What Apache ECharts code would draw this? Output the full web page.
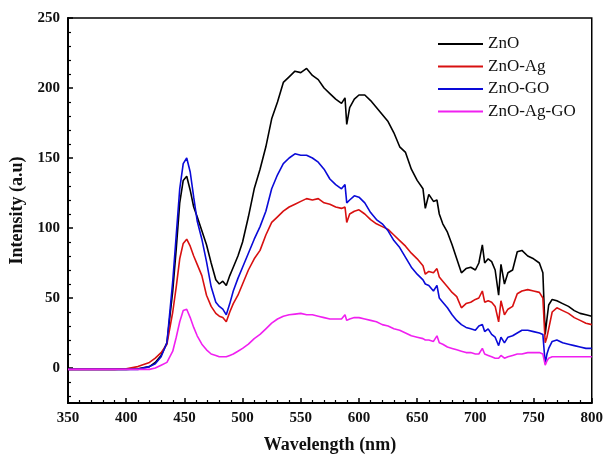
<!DOCTYPE html>
<html>
<head>
<meta charset="utf-8">
<script src="https://cdn.jsdelivr.net/npm/echarts@6/dist/echarts.min.js"></script>
<style>html,body{margin:0;padding:0;background:#fff}#c{width:606px;height:459px}</style>
</head>
<body>
<div id="c"></div>
<script>
const wavelength = [350,360,370,380,390,400,410,420,425,430,435,440,443,446,449,452,455,458,461,465,469,473,477,480,483,486,489,492,496,500,505,510,515,520,525,530,535,540,545,550,555,560,565,570,575,580,585,588,589.5,592,596,600,605,610,615,620,625,630,635,640,645,650,655,657,660,664,667,669,672,676,680,684,688,692,696,700,703,706,708,711,714,717,720,722,725,728,732,736,740,745,750,755,758,760,761.5,763,766,770,775,780,785,790,795,800];

const znO = [-1,-1,-1,-1,-1,-1,-0.5,1,4,9,18,55,85,118,134,137,127,115,108,98,88,75,63,60,62,59,66,72,80,90,108,128,142,158,178,190,204,208,212,211,214,209,206,200,196,192,189,193,174,186,192,195,195,191,186,181,176,168,158,154,142,134,128,114,124,119,120,110,103,97,88,78,68,71,72,70,75,88,75,78,76,70,52,74,60,68,70,83,84,80,78,75,68,24,35,45,49,48,46,44,41,39,38,37];

const znOAg = [-1,-1,-1,-1,-1,-0.5,1,4,7,11,17,40,58,78,89,92,87,80,74,66,52,44,39,37,36,33,40,46,52,60,70,78,84,95,104,108,112,115,117,119,121,120,121,118,117,115,114,115,104,110,112,113,110,106,103,101,99,95,91,87,82,78,73,67,69,68,71,65,62,58,54,51,43,46,47,49,50,55,47,48,47,44,33,48,38,42,44,53,55,56,55,54,50,18,22,28,40,43,41,39,36,34,32,31];

const znOGO = [-1,-1,-1,-1,-1,-1,-1,1,3,8,18,62,95,128,146,150,140,122,105,92,76,58,47,44,42,38,46,55,64,72,82,92,101,112,128,138,146,150,153,152,152,150,147,142,135,131,128,131,118,120,123,122,118,111,106,103,98,91,86,79,72,67,63,60,59,55,59,50,47,43,38,34,31,29,28,27,30,31,26,28,24,22,16,22,18,22,23,25,27,27,26,25,24,3,10,14,19,20,18,17,16,15,14,14];

const znOAgGO = [-1,-1,-1,-1,-1,-1,-1,-1,0,2,4,12,22,33,41,42,36,29,23,17,13,10,9,8,8,8,9,10,12,14,17,21,24,28,32,35,37,38,38.5,39,38,38,37,36,35,35,35,38,34,35,36,36,35,34,33,31,30,28,27,25,23,22,21,20,20,19,23,18,17,15,14,13,12,11,11,10,10,14,10,9,8,7,7,9,7,8,9,10,10,11,11,11,10,2,5,7,8,8,8,8,8,8,8,8];

const seriesNames = ['ZnO','ZnO-Ag','ZnO-GO','ZnO-Ag-GO'];
const seriesColors = ['#000000','#d81010','#0a0ad8','#f020f0'];
const seriesValues = [znO, znOAg, znOGO, znOAgGO];

const xTicks = {min:350, max:800, interval:50};
const yTicks = {min:-25, max:250};

const chart = echarts.init(document.getElementById('c'), null, {renderer:'canvas'});
const font = '"Liberation Serif","Times New Roman",serif';

chart.setOption({
  animation:false,
  backgroundColor:'#fff',
  grid:{left:68, right:13, top:18, bottom:53, show:true, borderColor:'#000', borderWidth:1.5, backgroundColor:'transparent'},
  legend:{
    data:seriesNames,
    left:433, top:30, orient:'vertical',
    itemWidth:45, itemHeight:2, itemGap:4.5,
    textStyle:{fontFamily:font, fontSize:17, color:'#111', lineHeight:18},
    icon:'rect'
  },
  xAxis:{
    type:'value', min:xTicks.min, max:xTicks.max, interval:xTicks.interval,
    name:'Wavelength (nm)', nameLocation:'middle', nameGap:33,
    nameTextStyle:{fontFamily:font, fontSize:18, fontWeight:'bold', color:'#111'},
    axisLine:{show:true, onZero:false, lineStyle:{color:'#000', width:2}},
    axisTick:{show:true, inside:true, length:5, lineStyle:{color:'#000', width:1.5}},
    minorTick:{show:true, splitNumber:5, length:3, lineStyle:{color:'#000', width:1.2}},
    axisLabel:{fontFamily:font, fontSize:15, fontWeight:'bold', color:'#111', margin:8},
    splitLine:{show:false}
  },
  yAxis:{
    type:'value', min:yTicks.min, max:yTicks.max, minInterval:50, maxInterval:50, splitNumber:5,
    name:'Intensity (a.u)', nameLocation:'middle', nameGap:40,
    nameTextStyle:{fontFamily:font, fontSize:18, fontWeight:'bold', color:'#111'},
    axisLine:{show:true, onZero:false, lineStyle:{color:'#000', width:2}},
    axisTick:{show:true, inside:true, length:5, lineStyle:{color:'#000', width:1.5}},
    minorTick:{show:true, splitNumber:5, length:3, lineStyle:{color:'#000', width:1.2}},
    axisLabel:{fontFamily:font, fontSize:15, fontWeight:'bold', color:'#111', margin:8,
      formatter:function(v){ return (v % 50 === 0) ? String(v) : ''; }},
    splitLine:{show:false}
  },
  series: seriesNames.map(function(name, i){
    return {
      name:name, type:'line', symbol:'none', smooth:false,
      color:seriesColors[i],
      lineStyle:{color:seriesColors[i], width:1.6},
      data: wavelength.map(function(w, j){ return [w, seriesValues[i][j]]; })
    };
  })
});
</script>
</body>
</html>
